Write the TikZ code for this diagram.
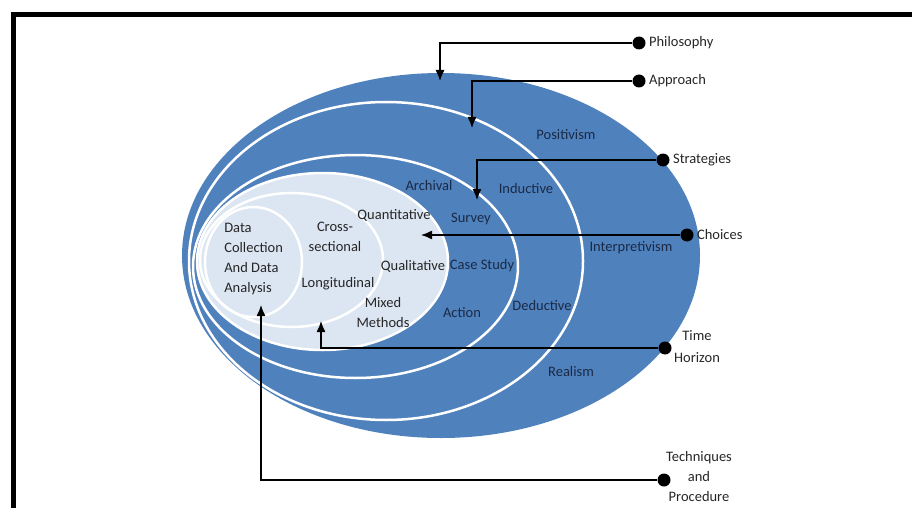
\documentclass[tikz,border=0pt]{standalone}
\usepackage{fontspec}
\setmainfont{Carlito}
\usetikzlibrary{arrows.meta}

\definecolor{ringblue}{HTML}{4F81BD}
\definecolor{ringlight}{HTML}{DCE6F2}
\definecolor{navytext}{HTML}{1A2A46}

\begin{document}
\begin{tikzpicture}[x=1pt,y=-1pt,>={Latex[length=11pt,width=9pt]},semithick]

            \tikzstyle{ring}=[draw=white,line width=2.5pt]
            \tikzstyle{lbl}=[text=navytext,inner sep=0pt,align=center]
            \tikzstyle{inlbl}=[text=black!85,inner sep=0pt,align=center]
            \tikzstyle{tag}=[text=black!85,inner sep=0pt,align=center]
            \tikzstyle{dot}=[circle,fill=black,inner sep=0pt,minimum size=13pt]
            \tikzstyle{link}=[->,draw=black,line width=1.3pt]

            \useasboundingbox (0,0) rectangle (912,508);
            \fontsize{14.5}{20}\selectfont

            % frame
            \draw[line width=5pt] (13,508) -- (13,14.5) -- (912,14.5);

            % onion rings
            \fill[ringblue] (441,255.5) ellipse [x radius=259pt,y radius=182.5pt];
            \draw[ring] (386,261) ellipse [x radius=197pt,y radius=159pt];
            \draw[ring] (355.5,266.5) ellipse [x radius=162.5pt,y radius=111.5pt];
            \filldraw[ring,fill=ringlight] (322.5,261.5) ellipse [x radius=125.5pt,y radius=88.5pt];
            \draw[ring] (291.5,260) ellipse [x radius=91.5pt,y radius=67pt];
            \draw[ring] (253.5,262) ellipse [x radius=48.5pt,y radius=55pt];

            % ring labels
            \node[lbl] (pos)   at (566,135) {Positivism};
            \node[lbl] (ind)   at (526,189) {Inductive};
            \node[lbl] (arch)  at (429,186) {Archival};
            \node[lbl] (surv)  at (471,219) {Survey};
            \node[lbl] (interp) at (631,248) {Interpretivism};
            \node[lbl] (case)  at (482,266) {Case Study};
            \node[lbl] (act)   at (462,313) {Action};
            \node[lbl] (ded)   at (542,306) {Deductive};
            \node[lbl] (real)  at (571,372) {Realism};
            \node[inlbl] (quant) at (394,215) {Quantitative};
            \node[inlbl] (qual)  at (413,266) {Qualitative};
            \node[inlbl] (mixed) at (383,313) {Mixed\\Methods};
            \node[inlbl] (cross) at (335,237) {Cross-\\sectional};
            \node[inlbl] (longi) at (338,284) {Longitudinal};
            \node[inlbl,align=left,anchor=west] (data) at (224,259) {Data\\Collection\\And Data\\Analysis};

            % layer markers
            \node[dot] (philoDot) at (639,43)  {};
            \node[dot] (apprDot)  at (639,81)  {};
            \node[dot] (stratDot) at (663,160) {};
            \node[dot] (choiDot)  at (687,235) {};
            \node[dot] (timeDot)  at (665,348) {};
            \node[dot] (techDot)  at (664,480) {};

            \node[tag,anchor=west] (philo) at ([xshift=3pt]philoDot.east) {Philosophy};
            \node[tag,anchor=west] (appr)  at ([xshift=3pt]apprDot.east)  {Approach};
            \node[tag,anchor=west] (strat) at ([xshift=3pt]stratDot.east) {Strategies};
            \node[tag,anchor=west] (choi)  at ([xshift=3pt]choiDot.east)  {Choices};
            \node[tag,font=\fontsize{14.5}{22}\selectfont] (time) at (697,347) {Time\\Horizon};
            \node[tag] (tech) at (699,477) {Techniques\\and\\Procedure};

            \coordinate (philoTip) at (440,81);
            \coordinate (apprTip)  at (472,128);
            \coordinate (stratTip) at (477,200);
            \coordinate (choiTip)  at (421,235);
            \coordinate (timeTip)  at (321,321);
            \coordinate (techTip)  at (261,305);

            \draw[link] (philoDot) -| (philoTip);
            \draw[link] (apprDot)  -| (apprTip);
            \draw[link] (stratDot) -| (stratTip);
            \draw[link] (choiDot)  -- (choiTip);
            \draw[link] (timeDot)  -| (timeTip);
            \draw[link] (techDot)  -| (techTip);
        \end{tikzpicture}
\end{document}
